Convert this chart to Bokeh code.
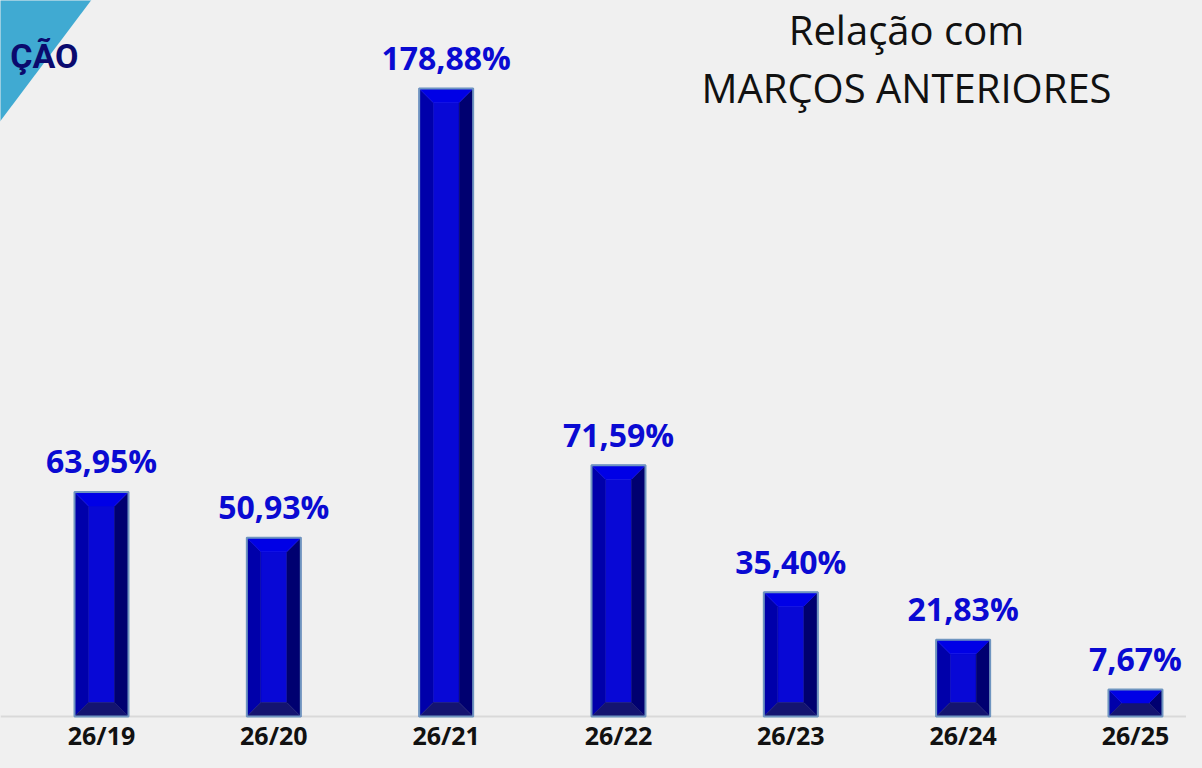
from bokeh.plotting import figure
from bokeh.models import Range1d, Label, PolyAnnotation, ColumnDataSource, Span
from bokeh.embed import file_html
from bokeh.resources import INLINE

# ---- data ----
categories = ["26/19", "26/20", "26/21", "26/22", "26/23", "26/24", "26/25"]
values = [63.95, 50.93, 178.88, 71.59, 35.40, 21.83, 7.67]
value_labels = ["63,95%", "50,93%", "178,88%", "71,59%", "35,40%", "21,83%", "7,67%"]
title_lines = ["Relação com", "MARÇOS ANTERIORES"]
corner_text = "ÇÃO"

# ---- layout constants ----
W, H = 1186, 752
X0, X1 = -0.5861, 6.2961
Y0, Y1 = -10.25, 203.93
PX_X = W / (X1 - X0)
PX_Y = H / (Y1 - Y0)
HALF_W = 27 / PX_X
BEVEL_PX = 14

BG = "#f0f0f0"
C_TOP, C_CENTER, C_LEFT, C_RIGHT, C_BOTTOM = "#0000e6", "#0808d6", "#0000aa", "#000070", "#141470"
C_EDGE = "#6f95c0"

p = figure(width=W, height=H, output_backend="svg", toolbar_location=None,
           x_range=Range1d(X0, X1), y_range=Range1d(Y0, Y1),
           x_axis_location=None, y_axis_location=None,
           min_border_left=0, min_border_right=0, min_border_top=0, min_border_bottom=0)
p.background_fill_color = BG
p.border_fill_color = BG
p.outline_line_color = None
p.grid.visible = False

# baseline
p.add_layout(Span(location=0, dimension="width", line_color="#d9d9d9", line_width=2,
                  level="underlay"))

# ---- bevelled bars ----
faces = {k: ([], []) for k in ["top", "bottom", "left", "right", "center"]}
for i, v in enumerate(values):
    h_px = v * PX_Y
    b_px = min(BEVEL_PX, h_px / 2)
    bx = b_px / PX_X
    by = b_px / PX_Y
    l, r = i - HALF_W, i + HALF_W
    il, ir = l + bx, r - bx
    faces["top"][0].append([l, r, ir, il]); faces["top"][1].append([v, v, v - by, v - by])
    faces["bottom"][0].append([l, r, ir, il]); faces["bottom"][1].append([0, 0, by, by])
    faces["left"][0].append([l, l, il, il]); faces["left"][1].append([0, v, v - by, by])
    faces["right"][0].append([r, r, ir, ir]); faces["right"][1].append([0, v, v - by, by])
    faces["center"][0].append([il, ir, ir, il]); faces["center"][1].append([by, by, v - by, v - by])

for name, col in [("center", C_CENTER), ("left", C_LEFT), ("right", C_RIGHT),
                  ("bottom", C_BOTTOM), ("top", C_TOP)]:
    xs, ys = faces[name]
    p.patches(xs, ys, fill_color=col, line_color=col, line_width=0.5)

xs_idx = list(range(len(values)))
p.quad(left=[i - HALF_W for i in xs_idx], right=[i + HALF_W for i in xs_idx],
       bottom=[0] * len(values), top=values, fill_color=None,
       line_color=C_EDGE, line_width=2)

# value labels
src = ColumnDataSource(dict(x=xs_idx, y=values, t=value_labels))
p.text(x="x", y="y", text="t", source=src, text_align="center", text_baseline="middle",
       y_offset=-31, text_font={"value": "Open Sans"}, text_font_style="bold",
       text_font_size="32px", text_color="#0a0ad2")

# category labels
csrc = ColumnDataSource(dict(x=xs_idx, y=[0] * len(categories), t=categories))
p.text(x="x", y="y", text="t", source=csrc, text_align="center", text_baseline="bottom",
       y_offset=35, text_font={"value": "Open Sans"}, text_font_style="bold",
       text_font_size="25px", text_color="#111111")

# ---- title ----
for line, sy in zip(title_lines, [H - 29, H - 87]):
    p.add_layout(Label(x=906, y=sy, x_units="screen", y_units="screen", text=line,
                       text_align="center", text_baseline="middle",
                       text_font="Open Sans", text_font_size="40px", text_color="#111111"))

# ---- corner decoration ----
p.add_layout(PolyAnnotation(xs=[-2, 92, -2], ys=[H + 2, H + 2, H - 123],
                            xs_units="screen", ys_units="screen",
                            fill_color="#40aad2", fill_alpha=1.0, line_color=None))
p.add_layout(Label(x=78, y=H - 55, x_units="screen", y_units="screen", text=corner_text,
                   text_align="right", text_baseline="middle", text_font="Roboto",
                   text_font_style="bold", text_font_size="34px", text_color="#0a0a6e"))

html = file_html(p, INLINE)
html = html.replace("<head>", "<head><style>html,body{background:#f0f0f0;}</style>", 1)
open("out.html", "w").write(html)
